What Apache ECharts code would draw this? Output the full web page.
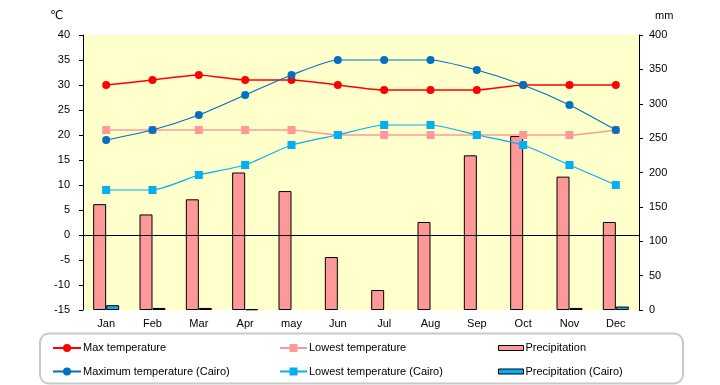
<!DOCTYPE html>
<html><head><meta charset="utf-8">
<script src="https://cdn.jsdelivr.net/npm/echarts@6/dist/echarts.min.js"></script>
<style>html,body{margin:0;padding:0;background:#fff}#c{width:720px;height:385px}</style>
</head><body><div id="c"></div>
<script>
const months = ['Jan','Feb','Mar','Apr','may','Jun','Jul','Aug','Sep','Oct','Nov','Dec'];
const maxTemp = [30,31,32,31,31,30,29,29,29,30,30,30];
const lowTemp = [21,21,21,21,21,20,20,20,20,20,20,21];
const precip = [154,139,161,200,173,77,29,128,225,253,194,128];
const maxCairo = [19,21,24,28,32,35,35,35,33,30,26,21];
const lowCairo = [9,9,12,14,18,20,22,22,20,18,14,10];
const precipCairo = [7,3,3,1,0,0,0,0,0,0,3,5];

const FONT = 'Liberation Sans';
const chart = echarts.init(document.getElementById('c'), null, {renderer:'canvas'});
const txt = {color:'#000', fontFamily:FONT, fontSize:11};
function leg(name, left, top, w, h, icon) {
  const o = {data:[name], left:left, top:top, itemWidth:w, itemHeight:h, itemGap:0,
    textStyle:Object.assign({}, txt, {fontSize:11, padding:[0,0,0,-3]}), selectedMode:false, padding:0};
  if (icon) { o.icon = icon; o.itemStyle = {borderColor:'#000', borderWidth:1}; }
  return o;
}
const hideZero = arr => arr.map(v => v === 0 ? null : v);
chart.setOption({
  animation:false,
  textStyle:txt,
  graphic:[
    {type:'rect', shape:{x:40,y:333.5,width:643,height:50,r:9}, style:{fill:'#fff',stroke:'#c8c8c8',lineWidth:2}, z:-1},
    {type:'text', left:50, top:10, style:{text:'℃', font:'12px "DejaVu Sans"', fill:'#000'}},
    {type:'text', left:655, top:10, style:{text:'mm', font:'11px '+FONT, fill:'#000'}}
  ],
  legend:[
    leg('Max temperature', 52, 342.5, 28, 10),
    leg('Lowest temperature', 279, 342.5, 27, 10),
    leg('Precipitation', 498, 342.5, 25, 5, 'rect'),
    leg('Maximum temperature (Cairo)', 52, 366, 28, 10),
    leg('Lowest temperature (Cairo)', 279, 366, 27, 10),
    leg('Precipitation (Cairo)', 498, 366, 25, 5, 'rect')
  ],
  grid:{left:83, right:81, top:35, bottom:75, show:true, backgroundColor:'#FFFFCC', borderWidth:0},
  xAxis:{type:'category', data:months, boundaryGap:true,
    axisLine:{show:false}, axisTick:{show:false},
    axisLabel:{color:'#000', fontFamily:FONT, fontSize:11, margin:8}},
  yAxis:[
    {type:'value', min:-15, max:40, interval:5, position:'left',
     axisLine:{show:true, lineStyle:{color:'#000'}}, axisTick:{show:true, length:4, lineStyle:{color:'#000'}},
     splitLine:{show:false}, axisLabel:{color:'#000', fontFamily:FONT, fontSize:11, margin:13}},
    {type:'value', min:0, max:400, interval:50, position:'right',
     axisLine:{show:true, lineStyle:{color:'#000'}}, axisTick:{show:true, length:4, lineStyle:{color:'#000'}},
     splitLine:{show:false}, axisLabel:{color:'#000', fontFamily:FONT, fontSize:11, margin:10}}
  ],
  series:[
    {name:'Precipitation', type:'bar', yAxisIndex:1, data:hideZero(precip), barWidth:13, barGap:'0%',
     itemStyle:{color:'#FF9999', borderColor:'#000', borderWidth:1}, z:1},
    {name:'Precipitation (Cairo)', type:'bar', yAxisIndex:1, data:hideZero(precipCairo), barWidth:13, barGap:'0%',
     itemStyle:{color:'#00B0F0', borderColor:'#000', borderWidth:1}, z:1},
    {name:'Max temperature', type:'line', yAxisIndex:0, data:maxTemp, smooth:0.2,
     symbol:'circle', symbolSize:8, lineStyle:{color:'#FF0000', width:1.5}, itemStyle:{color:'#FF0000'}, z:3,
     markLine:{silent:true, symbol:'none', label:{show:false}, lineStyle:{color:'#000', width:1, type:'solid'}, data:[{yAxis:0}]}},
    {name:'Lowest temperature', type:'line', yAxisIndex:0, data:lowTemp, smooth:0.2,
     symbol:'rect', symbolSize:8, lineStyle:{color:'#FF9999', width:1.5}, itemStyle:{color:'#FF9999'}, z:3},
    {name:'Maximum temperature (Cairo)', type:'line', yAxisIndex:0, data:maxCairo, smooth:0.2,
     symbol:'circle', symbolSize:8, lineStyle:{color:'#0070C0', width:1.2}, itemStyle:{color:'#0070C0'}, z:4},
    {name:'Lowest temperature (Cairo)', type:'line', yAxisIndex:0, data:lowCairo, smooth:0.2,
     symbol:'rect', symbolSize:8, lineStyle:{color:'#00B0F0', width:1.2}, itemStyle:{color:'#00B0F0'}, z:4}
  ]
});
</script></body></html>
